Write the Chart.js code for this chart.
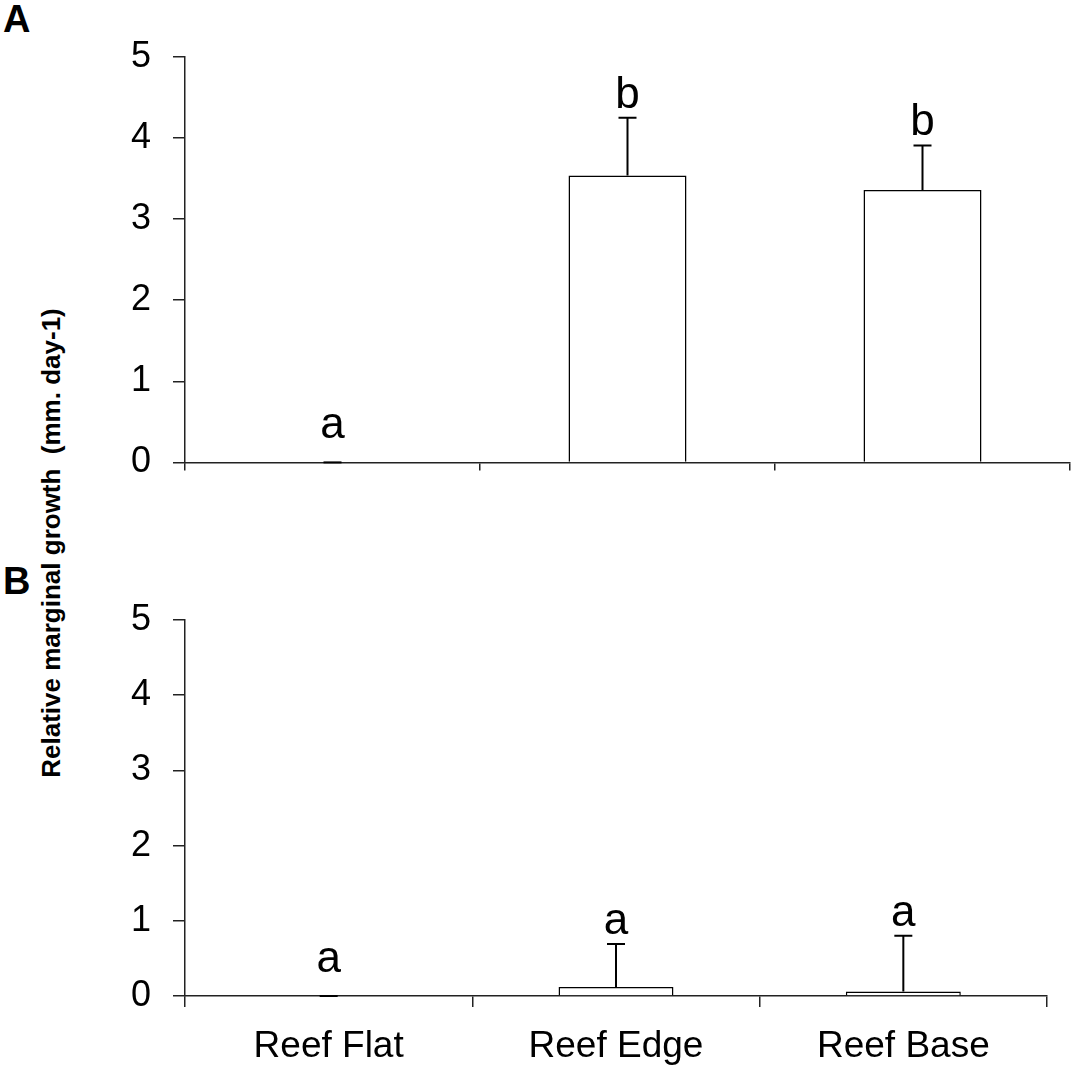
<!DOCTYPE html>
<html>
<head>
<meta charset="utf-8">
<script src="https://cdn.jsdelivr.net/npm/chart.js@4"></script>
<style>
  html, body { margin: 0; padding: 0; background: #fff; }
  body { width: 1074px; height: 1068px; position: relative; overflow: hidden; font-family: Arial, "Liberation Sans", sans-serif; }
  canvas { position: absolute; left: 0; }
  #c1 { top: 0; }
  #c2 { top: 560px; }
  .panel { position: absolute; left: 3px; font: bold 38px Arial, "Liberation Sans", sans-serif; color: #000; line-height: 1; }
  #ytitle { position: absolute; left: 51px; top: 543px; transform: translate(-50%, -50%) rotate(-90deg);
            font: bold 26px Arial, "Liberation Sans", sans-serif; white-space: pre; color: #000; }
</style>
</head>
<body>
<div class="panel" style="top:0px">A</div>
<div class="panel" style="top:562px">B</div>
<div id="ytitle">Relative marginal growth  (mm. day-1)</div>
<canvas id="c1" width="1074" height="506"></canvas>
<canvas id="c2" width="1074" height="508"></canvas>
<script>
const categories = ['Reef Flat', 'Reef Edge', 'Reef Base'];
const yTicks = [0, 1, 2, 3, 4, 5];
const growthA = [0, 3.54, 3.36];
const errorA = [0, 0.71, 0.55];
const lettersA = ['a', 'b', 'b'];
const growthB = [0, 0.12, 0.06];
const errorB = [0, 0.57, 0.74];
const lettersB = ['a', 'a', 'a'];

const FONT = 'Arial, "Liberation Sans", sans-serif';

const errorLetterPlugin = {
  id: 'errorLetters',
  afterDatasetsDraw(chart, args, opts) {
    const ctx = chart.ctx;
    const xs = chart.scales.x, ys = chart.scales.y;
    const vals = chart.data.datasets[0].data;
    const zeroPx = ys.getPixelForValue(0);
    ctx.save();
    ctx.strokeStyle = '#000';
    ctx.lineWidth = 2;
    vals.forEach((v, i) => {
      const x = xs.getPixelForValue(i);
      const yv = ys.getPixelForValue(v);
      const yt = ys.getPixelForValue(v + opts.errors[i]);
      ctx.beginPath();
      ctx.moveTo(x, yv);
      ctx.lineTo(x, yt);
      ctx.moveTo(x - 9, yt);
      ctx.lineTo(x + 9, yt);
      ctx.stroke();
      const base = Math.min(yt - 10, zeroPx - 24);
      ctx.fillStyle = '#000';
      ctx.font = '44px ' + FONT;
      ctx.textAlign = 'center';
      ctx.textBaseline = 'alphabetic';
      ctx.fillText(opts.letters[i], x, base);
    });
    ctx.restore();
  }
};

function makeChart(id, values, errors, letters, cfg) {
  return new Chart(document.getElementById(id), {
    type: 'bar',
    data: {
      labels: categories,
      datasets: [{
        data: values,
        backgroundColor: '#fff',
        borderColor: '#000',
        borderWidth: 1.5,
        barPercentage: 0.4,
        categoryPercentage: 1.0
      }]
    },
    plugins: [errorLetterPlugin],
    options: {
      responsive: false,
      animation: false,
      devicePixelRatio: 1,
      layout: { padding: cfg.padding },
      plugins: {
        legend: { display: false },
        tooltip: { enabled: false },
        errorLetters: { errors: errors, letters: letters }
      },
      scales: {
        x: {
          offset: true,
          grid: { offset: true, drawOnChartArea: false, drawTicks: true, tickLength: cfg.xTickLen, color: '#222', lineWidth: 1.5 },
          border: { display: true, color: '#222', width: 1.5 },
          ticks: { display: cfg.showX, color: '#000', font: { family: FONT, size: 37 }, padding: 18, maxRotation: 0 },
          afterFit(s) { s.height = cfg.xHeight; }
        },
        y: {
          min: 0, max: 5,
          afterBuildTicks(s) { s.ticks = yTicks.map(v => ({ value: v })); },
          grid: { drawOnChartArea: false, drawTicks: true, tickLength: 12, color: '#222', lineWidth: 1.5 },
          border: { display: true, color: '#222', width: 1.5 },
          ticks: { color: '#000', font: { family: FONT, size: 36 }, padding: 22 },
          afterFit(s) { s.width = 185; }
        }
      }
    }
  });
}

makeChart('c1', growthA, errorA, lettersA, {
  padding: { top: 57, right: 4, left: 0, bottom: 0 },
  xTickLen: 8, xHeight: 32, showX: false
});
makeChart('c2', growthB, errorB, lettersB, {
  padding: { top: 60, right: 27, left: 0, bottom: 0 },
  xTickLen: 11, xHeight: 72, showX: true
});
</script>
</body>
</html>
